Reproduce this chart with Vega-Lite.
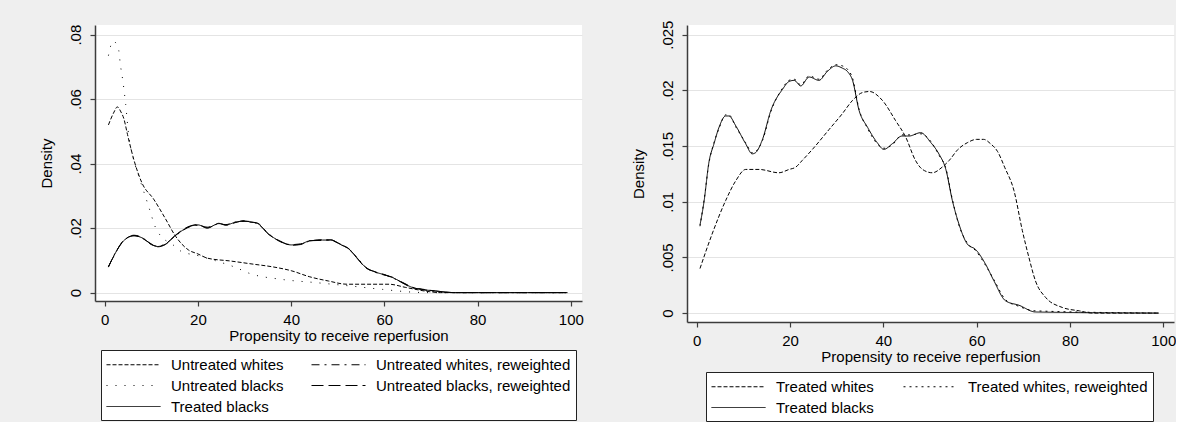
{
  "$schema": "https://vega.github.io/schema/vega-lite/v6.json",
  "background": "#efefef",
  "padding": {"left": 39, "top": 20, "right": 0, "bottom": 0},
  "bounds": "flush",
  "spacing": 105,
  "config": {
    "font": "Liberation Sans",
    "view": {"fill": "white", "stroke": null},
    "axis": {
      "domainColor": "#3c3c3c", "domainWidth": 1.5, "tickColor": "#3c3c3c", "tickSize": 5, "tickWidth": 1.2,
      "labelFont": "Liberation Sans", "labelFontSize": 15, "labelColor": "black",
      "titleFont": "Liberation Sans", "titleFontSize": 15, "titleFontWeight": "normal", "titleColor": "black",
      "gridColor": "#e4e4e4", "gridWidth": 1
    },
    "axisX": {"grid": false, "labelPadding": 6, "titlePadding": 1},
    "axisY": {"grid": true, "labelAngle": -90, "labelAlign": "center", "labelBaseline": "alphabetic", "labelPadding": 10, "titlePadding": 14},
    "legend": {
      "symbolType": "M-1,0H5", "symbolSize": 324, "symbolStrokeWidth": 1, "symbolStrokeColor": "black", "symbolFillColor": "transparent",
      "labelFont": "Liberation Sans", "labelFontSize": 15, "labelColor": "black",
      "fillColor": "white", "strokeColor": "#222", "padding": 5, "rowPadding": 3, "labelOffset": 46, "labelLimit": 300
    }
  },
  "datasets": {
    "left": [
      {"x": 0.8, "d": 0.052, "s": "Untreated whites"}, {"x": 2, "d": 0.056, "s": "Untreated whites"}, {"x": 2.7, "d": 0.0576, "s": "Untreated whites"}, {"x": 3.5, "d": 0.056, "s": "Untreated whites"}, {"x": 4.1, "d": 0.054, "s": "Untreated whites"}, {"x": 4.9, "d": 0.049, "s": "Untreated whites"}, {"x": 6.3, "d": 0.041, "s": "Untreated whites"}, {"x": 8, "d": 0.034, "s": "Untreated whites"}, {"x": 10.5, "d": 0.029, "s": "Untreated whites"}, {"x": 13, "d": 0.023, "s": "Untreated whites"}, {"x": 15.2, "d": 0.0175, "s": "Untreated whites"}, {"x": 18, "d": 0.0132, "s": "Untreated whites"}, {"x": 20, "d": 0.012, "s": "Untreated whites"}, {"x": 22, "d": 0.0107, "s": "Untreated whites"}, {"x": 27, "d": 0.0098, "s": "Untreated whites"}, {"x": 32, "d": 0.0088, "s": "Untreated whites"}, {"x": 36, "d": 0.008, "s": "Untreated whites"}, {"x": 40, "d": 0.0068, "s": "Untreated whites"}, {"x": 44, "d": 0.0049, "s": "Untreated whites"}, {"x": 48, "d": 0.0036, "s": "Untreated whites"}, {"x": 52, "d": 0.0026, "s": "Untreated whites"}, {"x": 61, "d": 0.0026, "s": "Untreated whites"}, {"x": 64.6, "d": 0.0016, "s": "Untreated whites"}, {"x": 69.6, "d": 0.0003, "s": "Untreated whites"}, {"x": 72, "d": 0, "s": "Untreated whites"}, {"x": 99, "d": 0, "s": "Untreated whites"},

      {"x": 0.8, "d": 0.0735, "s": "Untreated blacks"}, {"x": 1.8, "d": 0.078, "s": "Untreated blacks"}, {"x": 2.9, "d": 0.076, "s": "Untreated blacks"}, {"x": 3.4, "d": 0.0703, "s": "Untreated blacks"}, {"x": 3.9, "d": 0.0656, "s": "Untreated blacks"}, {"x": 4.5, "d": 0.0584, "s": "Untreated blacks"}, {"x": 5.2, "d": 0.048, "s": "Untreated blacks"}, {"x": 5.9, "d": 0.043, "s": "Untreated blacks"}, {"x": 7.4, "d": 0.0357, "s": "Untreated blacks"}, {"x": 8.8, "d": 0.0295, "s": "Untreated blacks"}, {"x": 9.5, "d": 0.0264, "s": "Untreated blacks"}, {"x": 10.9, "d": 0.0202, "s": "Untreated blacks"}, {"x": 12, "d": 0.0176, "s": "Untreated blacks"}, {"x": 14.5, "d": 0.015, "s": "Untreated blacks"}, {"x": 16.3, "d": 0.0129, "s": "Untreated blacks"}, {"x": 20.2, "d": 0.0114, "s": "Untreated blacks"}, {"x": 24, "d": 0.0098, "s": "Untreated blacks"}, {"x": 28.1, "d": 0.0078, "s": "Untreated blacks"}, {"x": 31, "d": 0.006, "s": "Untreated blacks"}, {"x": 38, "d": 0.0041, "s": "Untreated blacks"}, {"x": 45.3, "d": 0.0031, "s": "Untreated blacks"}, {"x": 52.4, "d": 0.0021, "s": "Untreated blacks"}, {"x": 59.6, "d": 0.001, "s": "Untreated blacks"}, {"x": 66.7, "d": 0.0001, "s": "Untreated blacks"}, {"x": 70, "d": 0, "s": "Untreated blacks"}, {"x": 99, "d": 0, "s": "Untreated blacks"},

      {"x": 0.8, "d": 0.008, "s": "Treated blacks"}, {"x": 2, "d": 0.0115, "s": "Treated blacks"}, {"x": 4, "d": 0.016, "s": "Treated blacks"}, {"x": 6.3, "d": 0.0176, "s": "Treated blacks"}, {"x": 8, "d": 0.017, "s": "Treated blacks"}, {"x": 10, "d": 0.015, "s": "Treated blacks"}, {"x": 11.3, "d": 0.0143, "s": "Treated blacks"}, {"x": 13, "d": 0.015, "s": "Treated blacks"}, {"x": 15, "d": 0.0175, "s": "Treated blacks"}, {"x": 18.4, "d": 0.0206, "s": "Treated blacks"}, {"x": 20, "d": 0.021, "s": "Treated blacks"}, {"x": 22, "d": 0.0201, "s": "Treated blacks"}, {"x": 24.5, "d": 0.0214, "s": "Treated blacks"}, {"x": 26, "d": 0.021, "s": "Treated blacks"}, {"x": 28, "d": 0.0218, "s": "Treated blacks"}, {"x": 29.9, "d": 0.0222, "s": "Treated blacks"}, {"x": 31, "d": 0.022, "s": "Treated blacks"}, {"x": 32.7, "d": 0.0215, "s": "Treated blacks"}, {"x": 35.3, "d": 0.018, "s": "Treated blacks"}, {"x": 37.5, "d": 0.016, "s": "Treated blacks"}, {"x": 40, "d": 0.0148, "s": "Treated blacks"}, {"x": 42, "d": 0.015, "s": "Treated blacks"}, {"x": 43.8, "d": 0.016, "s": "Treated blacks"}, {"x": 46.7, "d": 0.0163, "s": "Treated blacks"}, {"x": 48.5, "d": 0.0163, "s": "Treated blacks"}, {"x": 50.5, "d": 0.015, "s": "Treated blacks"}, {"x": 52.4, "d": 0.0135, "s": "Treated blacks"}, {"x": 54, "d": 0.011, "s": "Treated blacks"}, {"x": 56, "d": 0.0078, "s": "Treated blacks"}, {"x": 58, "d": 0.0064, "s": "Treated blacks"}, {"x": 59.6, "d": 0.0057, "s": "Treated blacks"}, {"x": 61.7, "d": 0.0047, "s": "Treated blacks"}, {"x": 64, "d": 0.003, "s": "Treated blacks"}, {"x": 66, "d": 0.0016, "s": "Treated blacks"}, {"x": 68, "d": 0.001, "s": "Treated blacks"}, {"x": 71, "d": 0.0005, "s": "Treated blacks"}, {"x": 75.3, "d": 0, "s": "Treated blacks"}, {"x": 99.3, "d": 0, "s": "Treated blacks"},

      {"x": 0.8, "d": 0.0079, "s": "Untreated whites, reweighted"}, {"x": 2, "d": 0.0116, "s": "Untreated whites, reweighted"}, {"x": 4, "d": 0.0159, "s": "Untreated whites, reweighted"}, {"x": 6.3, "d": 0.0178, "s": "Untreated whites, reweighted"}, {"x": 8, "d": 0.0171, "s": "Untreated whites, reweighted"}, {"x": 10, "d": 0.0149, "s": "Untreated whites, reweighted"}, {"x": 11.3, "d": 0.0144, "s": "Untreated whites, reweighted"}, {"x": 13, "d": 0.0151, "s": "Untreated whites, reweighted"}, {"x": 15, "d": 0.0174, "s": "Untreated whites, reweighted"}, {"x": 18.4, "d": 0.0205, "s": "Untreated whites, reweighted"}, {"x": 20, "d": 0.0209, "s": "Untreated whites, reweighted"}, {"x": 22, "d": 0.0203, "s": "Untreated whites, reweighted"}, {"x": 24.5, "d": 0.0213, "s": "Untreated whites, reweighted"}, {"x": 26, "d": 0.0211, "s": "Untreated whites, reweighted"}, {"x": 28, "d": 0.0219, "s": "Untreated whites, reweighted"}, {"x": 29.9, "d": 0.0221, "s": "Untreated whites, reweighted"}, {"x": 31, "d": 0.0221, "s": "Untreated whites, reweighted"}, {"x": 32.7, "d": 0.0214, "s": "Untreated whites, reweighted"}, {"x": 35.3, "d": 0.0181, "s": "Untreated whites, reweighted"}, {"x": 37.5, "d": 0.0159, "s": "Untreated whites, reweighted"}, {"x": 40, "d": 0.0149, "s": "Untreated whites, reweighted"}, {"x": 42, "d": 0.0151, "s": "Untreated whites, reweighted"}, {"x": 43.8, "d": 0.0159, "s": "Untreated whites, reweighted"}, {"x": 46.7, "d": 0.0164, "s": "Untreated whites, reweighted"}, {"x": 48.5, "d": 0.0162, "s": "Untreated whites, reweighted"}, {"x": 50.5, "d": 0.0151, "s": "Untreated whites, reweighted"}, {"x": 52.4, "d": 0.0134, "s": "Untreated whites, reweighted"}, {"x": 54, "d": 0.0111, "s": "Untreated whites, reweighted"}, {"x": 56, "d": 0.0079, "s": "Untreated whites, reweighted"}, {"x": 58, "d": 0.0063, "s": "Untreated whites, reweighted"}, {"x": 59.6, "d": 0.0058, "s": "Untreated whites, reweighted"}, {"x": 61.7, "d": 0.0046, "s": "Untreated whites, reweighted"}, {"x": 64, "d": 0.0031, "s": "Untreated whites, reweighted"}, {"x": 66, "d": 0.0017, "s": "Untreated whites, reweighted"}, {"x": 68, "d": 0.001, "s": "Untreated whites, reweighted"}, {"x": 71, "d": 0.0004, "s": "Untreated whites, reweighted"}, {"x": 75.3, "d": 0, "s": "Untreated whites, reweighted"}, {"x": 99, "d": 0, "s": "Untreated whites, reweighted"},

      {"x": 0.8, "d": 0.0081, "s": "Untreated blacks, reweighted"}, {"x": 2, "d": 0.0114, "s": "Untreated blacks, reweighted"}, {"x": 4, "d": 0.0161, "s": "Untreated blacks, reweighted"}, {"x": 6.3, "d": 0.0177, "s": "Untreated blacks, reweighted"}, {"x": 8, "d": 0.0169, "s": "Untreated blacks, reweighted"}, {"x": 10, "d": 0.0151, "s": "Untreated blacks, reweighted"}, {"x": 11.3, "d": 0.0142, "s": "Untreated blacks, reweighted"}, {"x": 13, "d": 0.0149, "s": "Untreated blacks, reweighted"}, {"x": 15, "d": 0.0176, "s": "Untreated blacks, reweighted"}, {"x": 18.4, "d": 0.0207, "s": "Untreated blacks, reweighted"}, {"x": 20, "d": 0.0211, "s": "Untreated blacks, reweighted"}, {"x": 22, "d": 0.02, "s": "Untreated blacks, reweighted"}, {"x": 24.5, "d": 0.0215, "s": "Untreated blacks, reweighted"}, {"x": 26, "d": 0.0209, "s": "Untreated blacks, reweighted"}, {"x": 28, "d": 0.0217, "s": "Untreated blacks, reweighted"}, {"x": 29.9, "d": 0.0223, "s": "Untreated blacks, reweighted"}, {"x": 31, "d": 0.0219, "s": "Untreated blacks, reweighted"}, {"x": 32.7, "d": 0.0216, "s": "Untreated blacks, reweighted"}, {"x": 35.3, "d": 0.0179, "s": "Untreated blacks, reweighted"}, {"x": 37.5, "d": 0.0161, "s": "Untreated blacks, reweighted"}, {"x": 40, "d": 0.0147, "s": "Untreated blacks, reweighted"}, {"x": 42, "d": 0.0149, "s": "Untreated blacks, reweighted"}, {"x": 43.8, "d": 0.0161, "s": "Untreated blacks, reweighted"}, {"x": 46.7, "d": 0.0162, "s": "Untreated blacks, reweighted"}, {"x": 48.5, "d": 0.0164, "s": "Untreated blacks, reweighted"}, {"x": 50.5, "d": 0.0149, "s": "Untreated blacks, reweighted"}, {"x": 52.4, "d": 0.0136, "s": "Untreated blacks, reweighted"}, {"x": 54, "d": 0.0109, "s": "Untreated blacks, reweighted"}, {"x": 56, "d": 0.0077, "s": "Untreated blacks, reweighted"}, {"x": 58, "d": 0.0065, "s": "Untreated blacks, reweighted"}, {"x": 59.6, "d": 0.0056, "s": "Untreated blacks, reweighted"}, {"x": 61.7, "d": 0.0048, "s": "Untreated blacks, reweighted"}, {"x": 64, "d": 0.0029, "s": "Untreated blacks, reweighted"}, {"x": 66, "d": 0.0015, "s": "Untreated blacks, reweighted"}, {"x": 68, "d": 0.0011, "s": "Untreated blacks, reweighted"}, {"x": 71, "d": 0.0005, "s": "Untreated blacks, reweighted"}, {"x": 75.3, "d": 0, "s": "Untreated blacks, reweighted"}, {"x": 99, "d": 0, "s": "Untreated blacks, reweighted"}
    ],
    "right": [
      {"x": 0.7, "d": 0.004, "s": "Treated whites"}, {"x": 3.3, "d": 0.0071, "s": "Treated whites"}, {"x": 6.2, "d": 0.0101, "s": "Treated whites"}, {"x": 8.4, "d": 0.0119, "s": "Treated whites"}, {"x": 10.5, "d": 0.0129, "s": "Treated whites"}, {"x": 13.4, "d": 0.0129, "s": "Treated whites"}, {"x": 17.6, "d": 0.0126, "s": "Treated whites"}, {"x": 19.8, "d": 0.0129, "s": "Treated whites"}, {"x": 21.2, "d": 0.0131, "s": "Treated whites"}, {"x": 22.6, "d": 0.0137, "s": "Treated whites"}, {"x": 24.8, "d": 0.0147, "s": "Treated whites"}, {"x": 28.4, "d": 0.0165, "s": "Treated whites"}, {"x": 31.2, "d": 0.0179, "s": "Treated whites"}, {"x": 33.4, "d": 0.0191, "s": "Treated whites"}, {"x": 35.5, "d": 0.0198, "s": "Treated whites"}, {"x": 37, "d": 0.0199, "s": "Treated whites"}, {"x": 39.8, "d": 0.0191, "s": "Treated whites"}, {"x": 42.6, "d": 0.0173, "s": "Treated whites"}, {"x": 44.8, "d": 0.0158, "s": "Treated whites"}, {"x": 46.9, "d": 0.0137, "s": "Treated whites"}, {"x": 48.4, "d": 0.0129, "s": "Treated whites"}, {"x": 50.5, "d": 0.0126, "s": "Treated whites"}, {"x": 52.6, "d": 0.0131, "s": "Treated whites"}, {"x": 54.1, "d": 0.0137, "s": "Treated whites"}, {"x": 56, "d": 0.0147, "s": "Treated whites"}, {"x": 58, "d": 0.0153, "s": "Treated whites"}, {"x": 60, "d": 0.0156, "s": "Treated whites"}, {"x": 61.5, "d": 0.0156, "s": "Treated whites"}, {"x": 63, "d": 0.0152, "s": "Treated whites"}, {"x": 64.5, "d": 0.0145, "s": "Treated whites"}, {"x": 66, "d": 0.0131, "s": "Treated whites"}, {"x": 68, "d": 0.011, "s": "Treated whites"}, {"x": 69.8, "d": 0.0074, "s": "Treated whites"}, {"x": 71.2, "d": 0.005, "s": "Treated whites"}, {"x": 72.6, "d": 0.0029, "s": "Treated whites"}, {"x": 74.8, "d": 0.0014, "s": "Treated whites"}, {"x": 78.4, "d": 0.0005, "s": "Treated whites"}, {"x": 82, "d": 0.0002, "s": "Treated whites"}, {"x": 84.8, "d": 0, "s": "Treated whites"}, {"x": 99, "d": 0, "s": "Treated whites"},

      {"x": 0.7, "d": 0.0078, "s": "Treated whites, reweighted"}, {"x": 1.6, "d": 0.0102, "s": "Treated whites, reweighted"}, {"x": 2.6, "d": 0.0134, "s": "Treated whites, reweighted"}, {"x": 3.7, "d": 0.0153, "s": "Treated whites, reweighted"}, {"x": 4.8, "d": 0.0166, "s": "Treated whites, reweighted"}, {"x": 6.2, "d": 0.0178, "s": "Treated whites, reweighted"}, {"x": 6.9, "d": 0.0178, "s": "Treated whites, reweighted"}, {"x": 8.4, "d": 0.0167, "s": "Treated whites, reweighted"}, {"x": 10.5, "d": 0.0153, "s": "Treated whites, reweighted"}, {"x": 11.9, "d": 0.0144, "s": "Treated whites, reweighted"}, {"x": 12.6, "d": 0.0145, "s": "Treated whites, reweighted"}, {"x": 14.1, "d": 0.0155, "s": "Treated whites, reweighted"}, {"x": 15.9, "d": 0.0181, "s": "Treated whites, reweighted"}, {"x": 18.4, "d": 0.0202, "s": "Treated whites, reweighted"}, {"x": 19.8, "d": 0.0209, "s": "Treated whites, reweighted"}, {"x": 20.9, "d": 0.021, "s": "Treated whites, reweighted"}, {"x": 22.3, "d": 0.0205, "s": "Treated whites, reweighted"}, {"x": 24.1, "d": 0.0213, "s": "Treated whites, reweighted"}, {"x": 26.2, "d": 0.021, "s": "Treated whites, reweighted"}, {"x": 28, "d": 0.0218, "s": "Treated whites, reweighted"}, {"x": 29.8, "d": 0.0223, "s": "Treated whites, reweighted"}, {"x": 31.2, "d": 0.0222, "s": "Treated whites, reweighted"}, {"x": 32.3, "d": 0.0219, "s": "Treated whites, reweighted"}, {"x": 33.4, "d": 0.0211, "s": "Treated whites, reweighted"}, {"x": 34.8, "d": 0.0183, "s": "Treated whites, reweighted"}, {"x": 36.6, "d": 0.0166, "s": "Treated whites, reweighted"}, {"x": 38.7, "d": 0.0152, "s": "Treated whites, reweighted"}, {"x": 40.1, "d": 0.0148, "s": "Treated whites, reweighted"}, {"x": 41.9, "d": 0.0151, "s": "Treated whites, reweighted"}, {"x": 44, "d": 0.016, "s": "Treated whites, reweighted"}, {"x": 45.5, "d": 0.016, "s": "Treated whites, reweighted"}, {"x": 48, "d": 0.0161, "s": "Treated whites, reweighted"}, {"x": 50.2, "d": 0.0154, "s": "Treated whites, reweighted"}, {"x": 51.9, "d": 0.0142, "s": "Treated whites, reweighted"}, {"x": 53.4, "d": 0.013, "s": "Treated whites, reweighted"}, {"x": 54.8, "d": 0.0102, "s": "Treated whites, reweighted"}, {"x": 56.2, "d": 0.0079, "s": "Treated whites, reweighted"}, {"x": 58, "d": 0.0063, "s": "Treated whites, reweighted"}, {"x": 59.8, "d": 0.0056, "s": "Treated whites, reweighted"}, {"x": 61.9, "d": 0.0043, "s": "Treated whites, reweighted"}, {"x": 63.7, "d": 0.003, "s": "Treated whites, reweighted"}, {"x": 66.2, "d": 0.0012, "s": "Treated whites, reweighted"}, {"x": 69.1, "d": 0.0006, "s": "Treated whites, reweighted"}, {"x": 72.6, "d": 0.0002, "s": "Treated whites, reweighted"}, {"x": 99, "d": 0, "s": "Treated whites, reweighted"},

      {"x": 0.7, "d": 0.0079, "s": "Treated blacks"}, {"x": 1.6, "d": 0.0101, "s": "Treated blacks"}, {"x": 2.6, "d": 0.0135, "s": "Treated blacks"}, {"x": 3.7, "d": 0.0152, "s": "Treated blacks"}, {"x": 4.8, "d": 0.0167, "s": "Treated blacks"}, {"x": 6.2, "d": 0.0177, "s": "Treated blacks"}, {"x": 6.9, "d": 0.0177, "s": "Treated blacks"}, {"x": 8.4, "d": 0.0168, "s": "Treated blacks"}, {"x": 10.5, "d": 0.0152, "s": "Treated blacks"}, {"x": 11.9, "d": 0.0143, "s": "Treated blacks"}, {"x": 12.6, "d": 0.0144, "s": "Treated blacks"}, {"x": 14.1, "d": 0.0156, "s": "Treated blacks"}, {"x": 15.9, "d": 0.0182, "s": "Treated blacks"}, {"x": 18.4, "d": 0.0201, "s": "Treated blacks"}, {"x": 19.8, "d": 0.0208, "s": "Treated blacks"}, {"x": 20.9, "d": 0.0209, "s": "Treated blacks"}, {"x": 22.3, "d": 0.0204, "s": "Treated blacks"}, {"x": 24.1, "d": 0.0212, "s": "Treated blacks"}, {"x": 26.2, "d": 0.0209, "s": "Treated blacks"}, {"x": 28, "d": 0.0217, "s": "Treated blacks"}, {"x": 29.8, "d": 0.0222, "s": "Treated blacks"}, {"x": 31.2, "d": 0.022, "s": "Treated blacks"}, {"x": 32.3, "d": 0.0217, "s": "Treated blacks"}, {"x": 33.4, "d": 0.0209, "s": "Treated blacks"}, {"x": 34.8, "d": 0.0182, "s": "Treated blacks"}, {"x": 36.6, "d": 0.0167, "s": "Treated blacks"}, {"x": 38.7, "d": 0.0153, "s": "Treated blacks"}, {"x": 40.1, "d": 0.0147, "s": "Treated blacks"}, {"x": 41.9, "d": 0.0152, "s": "Treated blacks"}, {"x": 44, "d": 0.0159, "s": "Treated blacks"}, {"x": 45.5, "d": 0.0159, "s": "Treated blacks"}, {"x": 48, "d": 0.0162, "s": "Treated blacks"}, {"x": 50.2, "d": 0.0153, "s": "Treated blacks"}, {"x": 51.9, "d": 0.0143, "s": "Treated blacks"}, {"x": 53.4, "d": 0.0129, "s": "Treated blacks"}, {"x": 54.8, "d": 0.0101, "s": "Treated blacks"}, {"x": 56.2, "d": 0.008, "s": "Treated blacks"}, {"x": 58, "d": 0.0062, "s": "Treated blacks"}, {"x": 59.8, "d": 0.0057, "s": "Treated blacks"}, {"x": 61.9, "d": 0.0044, "s": "Treated blacks"}, {"x": 63.7, "d": 0.0029, "s": "Treated blacks"}, {"x": 66.2, "d": 0.0011, "s": "Treated blacks"}, {"x": 69.1, "d": 0.0007, "s": "Treated blacks"}, {"x": 72.6, "d": 0.0001, "s": "Treated blacks"}, {"x": 99, "d": 0, "s": "Treated blacks"}
    ]
  },
  "hconcat": [
    {
      "width": 487, "height": 276,
      "data": {"name": "left"},
      "mark": {"type": "line", "color": "black", "strokeWidth": 1, "interpolate": "monotone", "clip": true},
      "encoding": {
        "x": {"field": "x", "type": "quantitative", "title": "Propensity to receive reperfusion",
              "scale": {"domain": [-2.08, 102.4], "nice": false, "zero": false},
              "axis": {"values": [0, 20, 40, 60, 80, 100]}},
        "y": {"field": "d", "type": "quantitative", "title": "Density",
              "scale": {"domain": [-0.0026, 0.083], "nice": false, "zero": false},
              "axis": {"values": [0, 0.02, 0.04, 0.06, 0.08], "labelExpr": "datum.value == 0 ? '0' : replace(format(datum.value, '.3~f'), '0.', '.')"}},
        "strokeDash": {"field": "s", "type": "nominal",
              "scale": {"domain": ["Untreated whites", "Untreated blacks", "Treated blacks", "Untreated whites, reweighted", "Untreated blacks, reweighted"],
                        "range": [[4, 2], [1, 8], [1, 0], [8, 5, 2, 5], [12, 5]]},
              "legend": {"title": null, "orient": "none", "legendX": 6, "legendY": 325, "columns": 2, "columnPadding": 25}}
      }
    },
    {
      "width": 487, "height": 297,
      "data": {"name": "right"},
      "mark": {"type": "line", "color": "black", "strokeWidth": 1, "interpolate": "monotone", "clip": true},
      "encoding": {
        "x": {"field": "x", "type": "quantitative", "title": "Propensity to receive reperfusion",
              "scale": {"domain": [-2.08, 102.3], "nice": false, "zero": false},
              "axis": {"values": [0, 20, 40, 60, 80, 100]}},
        "y": {"field": "d", "type": "quantitative", "title": "Density",
              "scale": {"domain": [-0.0008, 0.02587], "nice": false, "zero": false},
              "axis": {"values": [0, 0.005, 0.01, 0.015, 0.02, 0.025], "labelExpr": "datum.value == 0 ? '0' : replace(format(datum.value, '.3~f'), '0.', '.')"}},
        "strokeDash": {"field": "s", "type": "nominal",
              "scale": {"domain": ["Treated whites", "Treated blacks", "Treated whites, reweighted"],
                        "range": [[4, 2], [1, 0], [2, 4]]},
              "legend": {"title": null, "orient": "none", "legendX": 19, "legendY": 347, "columns": 2, "columnPadding": 27}}
      }
    }
  ],
  "resolve": {"scale": {"strokeDash": "independent", "x": "independent", "y": "independent"}, "legend": {"strokeDash": "independent"}}
}
